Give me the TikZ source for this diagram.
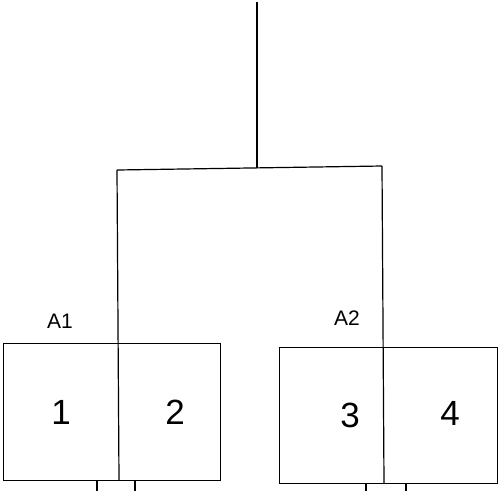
\documentclass[tikz,border=0pt]{standalone}
\usepackage{fontspec}
\setmainfont{Liberation Sans}
\begin{document}
\begin{tikzpicture}[x=1pt,y=-1pt,
  ln/.style={line width=1.2pt,black},
  boxs/.style={draw,line width=1.2pt,inner sep=0pt,anchor=north west},
  num/.style={font=\fontsize{35}{37}\selectfont},
  lab/.style={font=\fontsize{21}{23}\selectfont}]
\useasboundingbox (0,0) rectangle (500,491);
% boxes
\node[boxs,minimum width=217pt,minimum height=137pt] (A1box) at (3,343) {};
\node[boxs,minimum width=218pt,minimum height=136pt] (A2box) at (279,347) {};
% tree coordinates
\coordinate (top) at (257,2);
\coordinate (j) at (257,168);
\coordinate (jl) at (117,170);
\coordinate (jr) at (382,166);
\coordinate (dl) at (119,480);
\coordinate (dr) at (384,483);
\draw[ln] (top) -- (j);
\draw[ln] (jl) -- (jr);
\draw[ln] (jl) -- (dl);
\draw[ln] (jr) -- (dr);
% legs
\coordinate (l1a) at (97,480); \coordinate (l1b) at (97,491);
\coordinate (l2a) at (135,480); \coordinate (l2b) at (135,491);
\coordinate (l3a) at (366,483); \coordinate (l3b) at (366,491);
\coordinate (l4a) at (406,483); \coordinate (l4b) at (406,491);
\draw[ln] (l1a) -- (l1b);
\draw[ln] (l2a) -- (l2b);
\draw[ln] (l3a) -- (l3b);
\draw[ln] (l4a) -- (l4b);
% labels
\node[lab] (tA1) at (60,321) {A1};
\node[lab] (tA2) at (347,318) {A2};
\node[num] (n1) at (61,412) {1};
\node[num] (n2) at (175,412) {2};
\node[num] (n3) at (350,415) {3};
\node[num] (n4) at (450,413) {4};
\end{tikzpicture}
\end{document}
